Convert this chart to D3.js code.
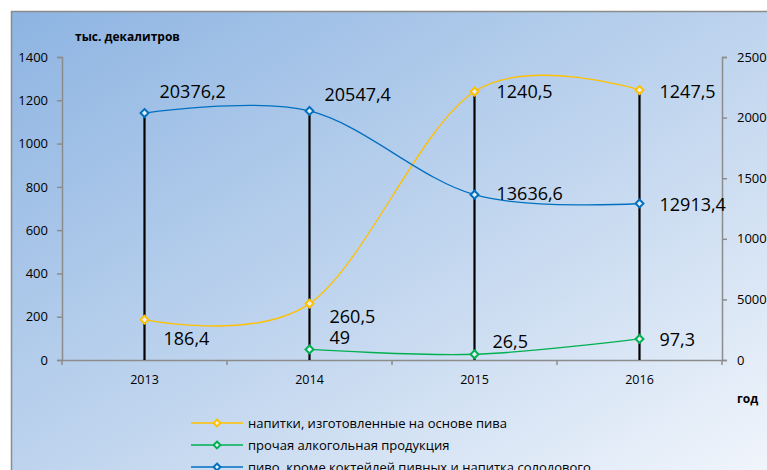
<!DOCTYPE html>
<html>
<head>
<meta charset="utf-8">
<script src="https://cdn.jsdelivr.net/npm/d3@7"></script>
<style>
  body { margin: 0; background: #fff; }
  svg { display: block; font-family: "Open Sans", "Noto Sans", sans-serif; }
</style>
</head>
<body>
<div id="chart"></div>
<script>
// data
var years = ["2013", "2014", "2015", "2016"];
var beerDrinks = [186.4, 260.5, 1240.5, 1247.5];          // left axis
var otherAlcohol = [null, 49, 26.5, 97.3];                 // left axis
var beer = [20376.2, 20547.4, 13636.6, 12913.4];           // right axis
var leftTicks = [0, 200, 400, 600, 800, 1000, 1200, 1400];
var rightTicks = [0, 5000, 10000, 15000, 20000, 25000];
var seriesNames = [
  "напитки, изготовленные на основе пива",
  "прочая алкогольная продукция",
  "пиво, кроме коктейлей пивных и напитка солодового"
];

var W = 767, H = 470;
var margin = {left: 62, right: 45, top: 57, bottom: 110};

var svg = d3.select("#chart").append("svg")
  .attr("width", W).attr("height", H);

var defs = svg.append("defs");
var grad = defs.append("linearGradient").attr("id", "bg")
  .attr("x1", "0").attr("y1", "0").attr("x2", "1").attr("y2", "1");
grad.append("stop").attr("offset", "0%").attr("stop-color", "#8db4e2");
grad.append("stop").attr("offset", "55%").attr("stop-color", "#c3d7ef");
grad.append("stop").attr("offset", "100%").attr("stop-color", "#f2f6fc");

// chart area
svg.append("rect").attr("x", 11).attr("y", 11).attr("width", W).attr("height", H)
  .attr("fill", "url(#bg)");
svg.append("line").attr("x1", 11).attr("y1", 11.5).attr("x2", W).attr("y2", 11.5)
  .attr("stroke", "#8c8c8c").attr("stroke-width", 1.5);
svg.append("line").attr("x1", 11.5).attr("y1", 11).attr("x2", 11.5).attr("y2", H)
  .attr("stroke", "#8c8c8c").attr("stroke-width", 1.5);

var x = d3.scaleBand().domain(years).range([margin.left, W - margin.right]);
var yL = d3.scaleLinear().domain([0, 1400]).range([H - margin.bottom, margin.top]);
var yR = d3.scaleLinear().domain([0, 25000]).range([H - margin.bottom, margin.top]);
var cx = function(i) { return x(years[i]) + x.bandwidth() / 2; };

var axisColor = "#8c8c8c";

// left axis
var gL = svg.append("g").attr("transform", "translate(" + margin.left + ",0)")
  .call(d3.axisLeft(yL).tickValues(leftTicks).tickSize(5).tickPadding(9).tickFormat(d3.format("d")));
// right axis
var gR = svg.append("g").attr("transform", "translate(" + (W - margin.right) + ",0)")
  .call(d3.axisRight(yR).tickValues(rightTicks).tickSize(5).tickPadding(10).tickFormat(d3.format("d")));
// bottom axis
var gB = svg.append("g").attr("transform", "translate(0," + (H - margin.bottom) + ")")
  .call(d3.axisBottom(x).tickSize(0).tickPadding(15));
gB.selectAll(".tick line").remove();
var bandEdges = d3.range(years.length + 1).map(function(i) { return margin.left + i * x.bandwidth(); });
gB.selectAll(".edge").data(bandEdges).enter().append("line")
  .attr("x1", function(d) { return d; }).attr("x2", function(d) { return d; })
  .attr("y1", 0).attr("y2", 5).attr("stroke", axisColor).attr("stroke-width", 1.5);

[gL, gR, gB].forEach(function(g) {
  g.select(".domain").attr("stroke", axisColor).attr("stroke-width", 1.5);
  g.selectAll(".tick line").attr("stroke", axisColor).attr("stroke-width", 1.5);
  g.selectAll("text").attr("fill", "#000").style("font-size", "13px")
    .style("font-family", "'Open Sans', sans-serif");
});
gB.selectAll("text").style("font-size", "12.5px");

// drop lines
var plotted = years.map(function(y, i) {
  var ys = [yL(beerDrinks[i]), yR(beer[i])];
  if (otherAlcohol[i] != null) ys.push(yL(otherAlcohol[i]));
  return d3.min(ys);
});
svg.selectAll(".drop").data(plotted).enter().append("line")
  .attr("x1", function(d, i) { return cx(i); }).attr("x2", function(d, i) { return cx(i); })
  .attr("y1", function(d) { return d; }).attr("y2", H - margin.bottom)
  .attr("stroke", "#000").attr("stroke-width", 2.2);

// series (label offsets: dx to text start, dy to text middle)
var series = [
  {values: beerDrinks, scale: yL, color: "#ffc000",
   offsets: [[19, 19], [20, 13], [22, 0], [20, 2]]},
  {values: otherAlcohol, scale: yL, color: "#00b050",
   offsets: [null, [20, -12], [18, -13], [20, 1]]},
  {values: beer, scale: yR, color: "#0070c0",
   offsets: [[15, -21], [15, -16], [22, -1], [20, 1]]}
];

series.forEach(function(s) {
  var pts = s.values.map(function(v, i) { return v == null ? null : [cx(i), s.scale(v)]; })
    .filter(function(p) { return p; });
  svg.append("path").datum(pts)
    .attr("d", d3.line().curve(d3.curveCatmullRom.alpha(0)))
    .attr("fill", "none").attr("stroke", s.color).attr("stroke-width", 1.3);
});

series.forEach(function(s) {
  s.values.forEach(function(v, i) {
    if (v == null) return;
    var px = cx(i), py = s.scale(v);
    svg.append("path")
      .attr("d", d3.symbol().type(d3.symbolDiamond2).size(40)())
      .attr("transform", "translate(" + px + "," + py + ")")
      .attr("fill", "#e6eef8").attr("stroke", s.color).attr("stroke-width", 2);
    svg.append("text")
      .attr("x", px + s.offsets[i][0]).attr("y", py + s.offsets[i][1])
      .attr("dy", "0.35em").style("font-size", "18px")
      .text(d3.format(".1f")(v).replace(/\.0$/, "").replace(".", ","));
  });
});

// axis titles
svg.append("text").attr("x", 75).attr("y", 41).style("font-size", "12px")
  .style("font-weight", "bold").text("тыс. декалитров");
svg.append("text").attr("x", 737).attr("y", 403).style("font-size", "12px")
  .style("font-weight", "bold").text("год");

// legend
var legend = svg.append("g");
seriesNames.forEach(function(name, i) {
  var ly = 423 + i * 22;
  legend.append("line").attr("x1", 191).attr("x2", 243).attr("y1", ly).attr("y2", ly)
    .attr("stroke", series[i].color).attr("stroke-width", 1.5);
  legend.append("path")
    .attr("d", d3.symbol().type(d3.symbolDiamond2).size(30)())
    .attr("transform", "translate(217," + ly + ")")
    .attr("fill", "#e6eef8").attr("stroke", series[i].color).attr("stroke-width", 2);
  legend.append("text").attr("x", 248).attr("y", ly).attr("dy", "0.35em")
    .style("font-size", "13px").text(name);
});
</script>
</body>
</html>
